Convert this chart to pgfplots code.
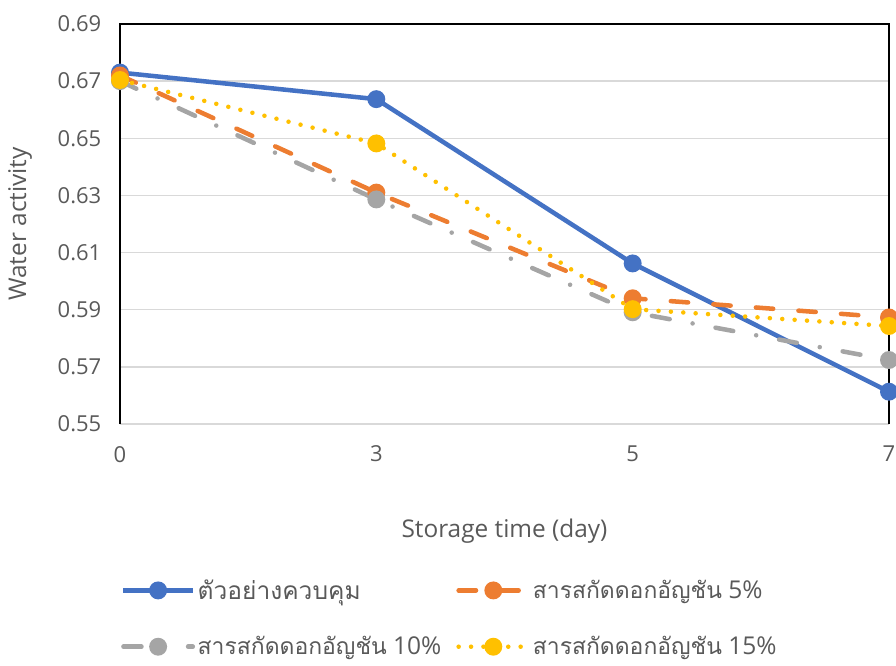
\documentclass[border=0pt]{standalone}
\usepackage{fontspec}
\setmainfont{Open Sans}
\newfontfamily\thai[Script=Thai]{Loma}
\usepackage{pgfplots}
\pgfplotsset{compat=1.18}
\definecolor{cblue}{HTML}{4472C4}
\definecolor{corange}{HTML}{ED7D31}
\definecolor{cgray}{HTML}{A5A5A5}
\definecolor{cyellow}{HTML}{FFC000}
\definecolor{tgray}{HTML}{595959}
\definecolor{gridgray}{HTML}{D9D9D9}
\newcommand{\thaisub}{\thai\fontsize{17.2}{21}\selectfont}
\begin{document}
\begin{tikzpicture}
\begin{axis}[name=ax, scale only axis, width=576.75pt, height=300pt,
  xmin=0, xmax=3, ymin=0.55, ymax=0.69,
  xtick={0,1,2,3}, xticklabels={0,3,5,7},
  ytick={0.55,0.57,0.59,0.61,0.63,0.65,0.67,0.69},
  /pgf/number format/assume math mode=true,
  ticklabel style={font=\fontsize{16.5}{19}\selectfont, text=tgray},
  xticklabel style={yshift=-13pt},
  yticklabel style={xshift=-10.5pt, /pgf/number format/fixed, /pgf/number format/fixed zerofill, /pgf/number format/precision=2},
  major tick length=0pt,
  ymajorgrids, grid style={color=gridgray, line width=1.1pt},
  axis line style={draw=none},
  xlabel={Storage time (day)}, ylabel={Water activity},
  label style={font=\fontsize{18.3}{21}\selectfont, text=tgray},
  xlabel style={at={(axis description cs:0.5,-0.2675)}, anchor=center},
  ylabel style={at={(axis description cs:-0.1300,0.5)}, anchor=center},
  clip=false,
  legend columns=2,
  legend cell align=left,
  legend style={at={(axis description cs:-0.004,-0.375)}, anchor=north west, draw=none, fill=none,
    font=\fontsize{18.4}{21}\selectfont, text=tgray, row sep=22.5pt, column sep=0pt},
  legend image code/.code={\draw[mark repeat=2,mark phase=2,#1] plot coordinates {(0pt,0pt) (26pt,0pt) (52pt,0pt)};},
]
\draw[black, line width=1pt] (rel axis cs:0,0) -- (rel axis cs:0,1) -- (rel axis cs:1,1) -- (rel axis cs:1,0);
\addplot[cblue, line width=3.4pt, mark=*, mark size=5pt, mark options={solid, fill=cblue, draw=cblue}]
  coordinates {(0,0.6730) (1,0.6637) (2,0.6062) (3,0.5613)};
\addlegendentry{\makebox[192pt][l]{\thai ตัวอย่างควบคุม}}
\addplot[corange, line width=3.4pt, line cap=round, dash pattern=on 13pt off 19pt, mark=*, mark size=5pt, mark options={solid, fill=corange, draw=corange}]
  coordinates {(0,0.6720) (1,0.6310) (2,0.5940) (3,0.5873)};
\addlegendentry{{\thaisub สารสกัดดอกอัญชัน} 5\%}
\addplot[cgray, line width=3.4pt, line cap=round, dash pattern=on 13.5pt off 17.5pt on 0pt off 17.5pt, mark=*, mark size=5pt, mark options={solid, fill=cgray, draw=cgray}]
  coordinates {(0,0.6700) (1,0.6286) (2,0.5891) (3,0.5724)};
\addlegendentry{\makebox[192pt][l]{{\thaisub สารสกัดดอกอัญชัน} 10\%}}
\addplot[cyellow, line width=3.4pt, line cap=round, dash pattern=on 0pt off 9.3pt, mark=*, mark size=5pt, mark options={solid, fill=cyellow, draw=cyellow}]
  coordinates {(0,0.6704) (1,0.6482) (2,0.5902) (3,0.5843)};
\addlegendentry{{\thaisub สารสกัดดอกอัญชัน} 15\%}
\end{axis}
\pgfresetboundingbox
\path[use as bounding box] ([shift={(-90pt,-180.75pt)}]ax.south west) rectangle ([shift={(5.25pt,18pt)}]ax.north east);
\end{tikzpicture}
\end{document}
